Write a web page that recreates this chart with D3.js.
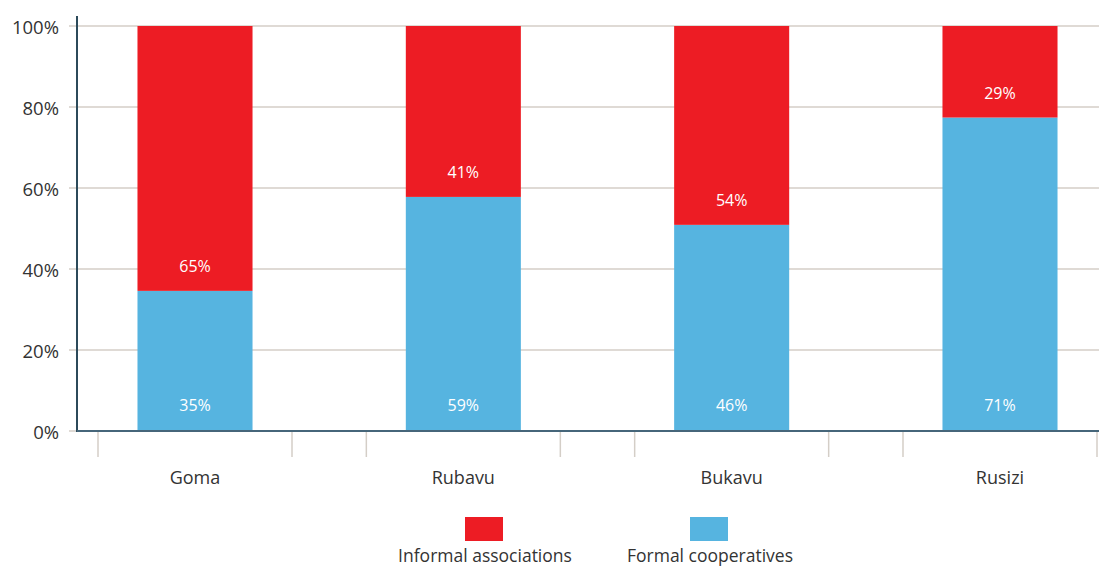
<!DOCTYPE html>
<html>
<head>
<meta charset="utf-8">
<script src="https://cdn.jsdelivr.net/npm/d3@7"></script>
<style>
  html, body { margin: 0; padding: 0; background: #fff; }
  svg { display: block; }
  text { font-family: "Open Sans", "Noto Sans", sans-serif; }
</style>
</head>
<body>
<svg id="chart" width="1099" height="568"></svg>
<script>
// ---- data ----
const categories = ["Goma", "Rubavu", "Bukavu", "Rusizi"];
// bar heights (share, %) as drawn in the picture
const formalShare = [34.6, 57.8, 50.9, 77.4];
const informalShare = formalShare.map(v => 100 - v);
// labels printed on the bars
const formalLabels = ["35%", "59%", "46%", "71%"];
const informalLabels = ["65%", "41%", "54%", "29%"];
const yTicks = [0, 20, 40, 60, 80, 100];
const seriesNames = ["Informal associations", "Formal cooperatives"];
const seriesColors = ["#ED1C24", "#56B4E0"];

// ---- layout ----
const svg = d3.select("#chart");
const x0 = 77, yTop = 26, yBase = 431, xRight = 1099;

const x = d3.scaleBand()
  .domain(categories)
  .range([98, 1097])
  .paddingInner(0.277)
  .paddingOuter(0);

const y = d3.scaleLinear().domain([0, 100]).range([yBase, yTop]);

const barW = x.bandwidth() * 0.593;

// gridlines
svg.append("g")
  .selectAll("line")
  .data(yTicks)
  .join("line")
  .attr("x1", 69).attr("x2", xRight)
  .attr("y1", d => y(d)).attr("y2", d => y(d))
  .attr("stroke", "#d4cec7").attr("stroke-width", 1.5);

// y tick labels
svg.append("g")
  .selectAll("text")
  .data(yTicks)
  .join("text")
  .attr("x", 59).attr("y", d => y(d))
  .attr("text-anchor", "end").attr("dominant-baseline", "central")
  .attr("font-size", 18.5).attr("fill", "#333")
  .text(d => d + "%");

// x band ticks
const edges = [];
categories.forEach(c => { edges.push(x(c)); edges.push(x(c) + x.bandwidth()); });
svg.append("g")
  .selectAll("line")
  .data(edges)
  .join("line")
  .attr("x1", d => d).attr("x2", d => d)
  .attr("y1", yBase).attr("y2", 457)
  .attr("stroke", "#d4cec7").attr("stroke-width", 1.5);

// bars
const g = svg.append("g");
categories.forEach((c, i) => {
  const cx = x(c) + x.bandwidth() / 2;
  // formal (bottom)
  g.append("rect")
    .attr("x", cx - barW / 2).attr("width", barW)
    .attr("y", y(formalShare[i])).attr("height", y(0) - y(formalShare[i]) + 1)
    .attr("fill", seriesColors[1]);
  // informal (top)
  g.append("rect")
    .attr("x", cx - barW / 2).attr("width", barW)
    .attr("y", y(100)).attr("height", y(formalShare[i]) - y(100))
    .attr("fill", seriesColors[0]);
  // labels
  g.append("text")
    .attr("x", cx).attr("y", y(0) - 26)
    .attr("text-anchor", "middle").attr("dominant-baseline", "central")
    .attr("font-size", 16).attr("fill", "#fff")
    .text(formalLabels[i]);
  g.append("text")
    .attr("x", cx).attr("y", y(formalShare[i]) - 25)
    .attr("text-anchor", "middle").attr("dominant-baseline", "central")
    .attr("font-size", 16).attr("fill", "#fff")
    .text(informalLabels[i]);
  // category label
  svg.append("text")
    .attr("x", cx).attr("y", 477)
    .attr("text-anchor", "middle").attr("dominant-baseline", "central")
    .attr("font-size", 18).attr("fill", "#333")
    .text(c);
});

// axes lines
svg.append("line")
  .attr("x1", x0).attr("x2", x0).attr("y1", 16).attr("y2", yBase + 1)
  .attr("stroke", "#2c4a5a").attr("stroke-width", 2);
svg.append("line")
  .attr("x1", x0).attr("x2", xRight).attr("y1", yBase).attr("y2", yBase)
  .attr("stroke", "#46667a").attr("stroke-width", 2);

// legend
const legendCenters = [484, 709];
seriesNames.forEach((name, i) => {
  svg.append("rect")
    .attr("x", legendCenters[i] - 19).attr("y", 517)
    .attr("width", 38).attr("height", 24)
    .attr("fill", seriesColors[i]);
  svg.append("text")
    .attr("x", legendCenters[i] + 1).attr("y", 555)
    .attr("text-anchor", "middle").attr("dominant-baseline", "central")
    .attr("font-size", 17.5).attr("fill", "#333")
    .text(name);
});
</script>
</body>
</html>
